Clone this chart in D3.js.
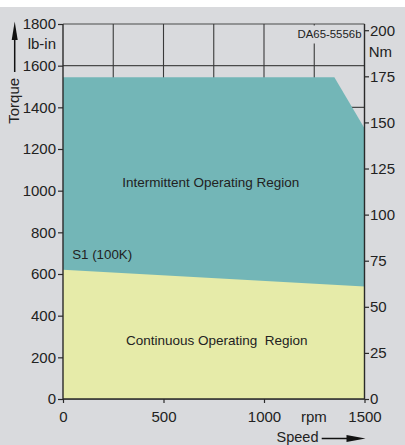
<!DOCTYPE html>
<html><head><meta charset="utf-8">
<script src="https://cdn.jsdelivr.net/npm/d3@7"></script>
<style>
html,body{margin:0;padding:0;background:#fff;}
svg{display:block;font-family:"Liberation Sans",Arial,sans-serif;}
</style></head>
<body>
<svg id="c" width="405" height="445"></svg>
<script>
// ---- data ----
const speedTicks = [0, 500, 1000, 1500];
const speedGrid = [250, 500, 750, 1000, 1250];
const torqueLbTicks = [0, 200, 400, 600, 800, 1000, 1200, 1400, 1600, 1800];
const torqueNmTicks = [0, 25, 50, 75, 100, 125, 150, 175, 200];
const intermittentSpeed = [0, 1350, 1500];
const intermittentTorque = [1545, 1545, 1300];
const continuousSpeed = [0, 1500];
const continuousTorque = [620, 540];
const labels = {
  intermittent: "Intermittent Operating Region",
  continuous: "Continuous Operating  Region",
  s1: "S1 (100K)",
  code: "DA65-5556b",
  lbUnit: "lb-in",
  nmUnit: "Nm",
  yTitle: "Torque",
  xUnit: "rpm",
  xTitle: "Speed"
};
const LB_PER_NM = 8.8507;

// ---- layout ----
const svg = d3.select("#c");
const W = 405, H = 445;
const L = 63, R = 364.5, T = 24, B = 399;
const x = d3.scaleLinear().domain([0, 1500]).range([L, R]);
const yL = d3.scaleLinear().domain([0, 1800]).range([B, T]);
const yR = d3.scaleLinear().domain([0, 1800 / LB_PER_NM]).range([B, T]);

svg.append("rect").attr("width", W).attr("height", H).attr("fill", "#fff");
svg.append("rect").attr("y", 7).attr("width", W).attr("height", H - 7).attr("fill", "#d9dadd");

// grid
const g = svg.append("g");
g.selectAll("line.h").data(torqueLbTicks).join("line")
  .attr("x1", L).attr("x2", R).attr("y1", d => yL(d)).attr("y2", d => yL(d))
  .attr("stroke", "#4a4a4a").attr("stroke-width", 1.2);
g.selectAll("line.v").data(speedGrid).join("line")
  .attr("x1", d => x(d)).attr("x2", d => x(d)).attr("y1", T).attr("y2", B)
  .attr("stroke", "#3a3a3a").attr("stroke-width", 1.1);

// areas
const area = d3.area().x(d => x(d[0])).y0(B).y1(d => yL(d[1]));
svg.append("path")
  .datum(intermittentSpeed.map((s, i) => [s, intermittentTorque[i]]))
  .attr("d", area).attr("fill", "#73b6b7");
svg.append("path")
  .datum(continuousSpeed.map((s, i) => [s, continuousTorque[i]]))
  .attr("d", area).attr("fill", "#e6eba9");

// code label with background
const codeG = svg.append("g");
codeG.append("rect").attr("x", 293).attr("y", T + 1.5).attr("width", R - 294).attr("height", 18).attr("fill", "#d9dadd");
codeG.append("text").attr("x", 297.5).attr("y", 37.7).attr("font-size", 11.4).attr("fill", "#222").text(labels.code);

// axes
const axisColor = "#2a2a2a";
const left = svg.append("g").attr("transform", `translate(${L},0)`)
  .call(d3.axisLeft(yL).tickValues(torqueLbTicks).tickSize(5).tickPadding(2).tickFormat(d3.format("d")));
const right = svg.append("g").attr("transform", `translate(${R},0)`)
  .call(d3.axisRight(yR).tickValues(torqueNmTicks).tickSize(4.5).tickPadding(1).tickFormat(d3.format("d")));
const bottom = svg.append("g").attr("transform", `translate(0,${B})`)
  .call(d3.axisBottom(x).tickValues(speedTicks).tickSize(4).tickPadding(8.5).tickFormat(d3.format("d")));
[left, right, bottom].forEach(a => {
  a.select(".domain").remove();
  a.selectAll("line").attr("stroke", axisColor).attr("stroke-width", 1.2);
  a.selectAll("text").attr("font-size", 15).attr("fill", "#222").attr("font-family", "Liberation Sans, Arial, sans-serif");
});
svg.append("line").attr("x1", L).attr("x2", L).attr("y1", T).attr("y2", B).attr("stroke", axisColor).attr("stroke-width", 1.4);
svg.append("line").attr("x1", R).attr("x2", R).attr("y1", T).attr("y2", B).attr("stroke", axisColor).attr("stroke-width", 1.4);
svg.append("line").attr("x1", L).attr("x2", R).attr("y1", B).attr("y2", B).attr("stroke", axisColor).attr("stroke-width", 1.4);

// unit labels
svg.append("text").attr("x", 56).attr("y", 49.3).attr("text-anchor", "end").attr("font-size", 15).attr("fill", "#222").text(labels.lbUnit);
svg.append("text").attr("x", 368.7).attr("y", 57.3).attr("font-size", 15).attr("fill", "#222").text(labels.nmUnit);
svg.append("text").attr("transform", "translate(18.5,100.8) rotate(-90)").attr("text-anchor", "middle").attr("font-size", 15).attr("fill", "#222").text(labels.yTitle);
svg.append("text").attr("x", x(1248)).attr("y", 422.3).attr("text-anchor", "middle").attr("font-size", 15).attr("fill", "#222").text(labels.xUnit);
svg.append("text").attr("x", 318.5).attr("y", 441.5).attr("text-anchor", "end").attr("font-size", 14.5).attr("fill", "#222").text(labels.xTitle);

// arrows
svg.append("line").attr("x1", 14.7).attr("x2", 14.7).attr("y1", 72).attr("y2", 36).attr("stroke", "#111").attr("stroke-width", 1.5);
svg.append("path").attr("d", "M14.7,21.5 L11.7,40 L17.7,40 Z").attr("fill", "#111");
svg.append("line").attr("x1", 321.7).attr("x2", 350).attr("y1", 438.5).attr("y2", 438.5).attr("stroke", "#111").attr("stroke-width", 1.5);
svg.append("path").attr("d", "M365.5,438.5 L346.5,435.1 L346.5,441.9 Z").attr("fill", "#111");

// region labels
svg.append("text").attr("x", x(735)).attr("y", yL(1020)).attr("text-anchor", "middle").attr("font-size", 13.5).attr("fill", "#222").text(labels.intermittent);
svg.append("text").attr("x", x(765)).attr("y", yL(259)).attr("text-anchor", "middle").attr("font-size", 13.5).attr("fill", "#222").attr("style", "white-space:pre").text(labels.continuous);
svg.append("text").attr("x", x(46)).attr("y", yL(672)).attr("font-size", 13.3).attr("fill", "#222").text(labels.s1);
</script>
</body></html>
